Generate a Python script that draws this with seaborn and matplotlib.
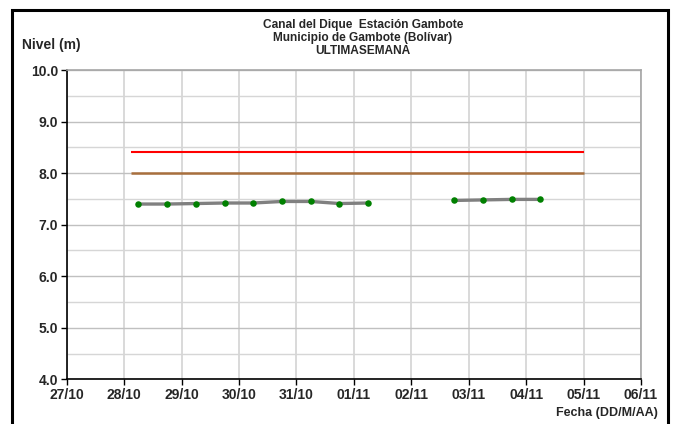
import pandas as pd
import numpy as np
import matplotlib
matplotlib.use("Agg")
import matplotlib.pyplot as plt
from matplotlib.patches import Rectangle
import seaborn as sns

# lecturas de nivel (m), cada 12 horas
fechas = ["2023-10-28 06:00", "2023-10-28 18:00", "2023-10-29 06:00", "2023-10-29 18:00",
          "2023-10-30 06:00", "2023-10-30 18:00", "2023-10-31 06:00", "2023-10-31 18:00",
          "2023-11-01 06:00",
          "2023-11-02 18:00", "2023-11-03 06:00", "2023-11-03 18:00", "2023-11-04 06:00"]
nivel = [7.40, 7.40, 7.41, 7.42, 7.42, 7.45, 7.45, 7.41, 7.42,
         7.47, 7.48, 7.49, 7.49]
tramo = [1, 1, 1, 1, 1, 1, 1, 1, 1, 2, 2, 2, 2]

alerta_roja = 8.4
alerta_naranja = 8.0
alerta_inicio = "2023-10-28 03:00"
alerta_fin = "2023-11-05 00:00"

ticks_x = ["27/10", "28/10", "29/10", "30/10", "31/10", "01/11",
           "02/11", "03/11", "04/11", "05/11", "06/11"]
x_ini = "2023-10-27"
x_fin = "2023-11-06"

df = pd.DataFrame({"fecha": pd.to_datetime(fechas), "nivel": nivel, "tramo": tramo})

sns.set_style("white")
plt.rcParams["font.family"] = ["Liberation Sans", "DejaVu Sans"]
plt.rcParams["font.weight"] = "bold"

fig = plt.figure(figsize=(6.77, 4.24), dpi=100)
ax = fig.add_axes([0.0985, 0.1054, 0.8483, 0.7295])

# limites de alerta
ax.hlines(alerta_roja, pd.Timestamp(alerta_inicio), pd.Timestamp(alerta_fin),
          color="#FF0000", lw=1.5, zorder=3)
ax.hlines(alerta_naranja, pd.Timestamp(alerta_inicio), pd.Timestamp(alerta_fin),
          color="#A86F3D", lw=1.8, zorder=3)

sns.lineplot(data=df, x="fecha", y="nivel", units="tramo", estimator=None,
             color="#808080", lw=2.4, ax=ax, zorder=4)
sns.scatterplot(data=df, x="fecha", y="nivel", color="#008000", s=22,
                edgecolor="#008000", linewidth=0, ax=ax, zorder=5)

ax.set_xlim(pd.Timestamp(x_ini), pd.Timestamp(x_fin))
ax.set_ylim(4.0, 10.0)
dias = pd.date_range(x_ini, x_fin, freq="D")
ax.set_xticks(dias)
ax.set_xticklabels(ticks_x, fontsize=10, fontweight="bold")
ax.set_yticks(np.arange(4.0, 10.01, 1.0))
ax.set_yticklabels([f"{v:.1f}" for v in np.arange(4.0, 10.01, 1.0)],
                   fontsize=10, fontweight="bold")
ax.set_yticks(np.arange(4.5, 10.0, 1.0), minor=True)

ax.grid(True, which="major", axis="both", color="#C0C0C0", lw=1.0, zorder=0)
ax.grid(True, which="minor", axis="y", color="#D6D6D6", lw=1.0, zorder=0)
ax.xaxis.grid(True, color="#D9D9D9", lw=1.4)
ax.set_axisbelow(True)

ax.tick_params(axis="both", which="major", direction="out", length=4, width=1,
               color="black", pad=2, left=True, bottom=True)
ax.tick_params(axis="y", which="minor", length=0)
for s in ["left", "bottom"]:
    ax.spines[s].set_color("black")
    ax.spines[s].set_linewidth(1.2)
for s in ["top", "right"]:
    ax.spines[s].set_color("#A6A6A6")
    ax.spines[s].set_linewidth(1.2)

ax.set_xlabel("")
ax.set_ylabel("")

fig.text(0.536, 0.940, "Canal del Dique  Estación Gambote", ha="center", va="center",
         fontsize=8.6, fontweight="bold")
fig.text(0.536, 0.910, "Municipio de Gambote (Bolívar)", ha="center", va="center",
         fontsize=8.6, fontweight="bold")
fig.text(0.536, 0.880, "ULTIMASEMANA", ha="center", va="center",
         fontsize=8.6, fontweight="bold")
fig.text(0.032, 0.893, "Nivel (m)", ha="left", va="center", fontsize=10, fontweight="bold")
fig.text(0.972, 0.026, "Fecha (DD/M/AA)", ha="right", va="center", fontsize=9,
         fontweight="bold")

# marco exterior
fig.patches.append(Rectangle((12 / 677, -0.02), (668 - 12) / 677, 1 - 10 / 424 + 0.02,
                             transform=fig.transFigure, fill=False, edgecolor="black",
                             lw=2.2, clip_on=False))

fig.savefig("out.png", dpi=100)
